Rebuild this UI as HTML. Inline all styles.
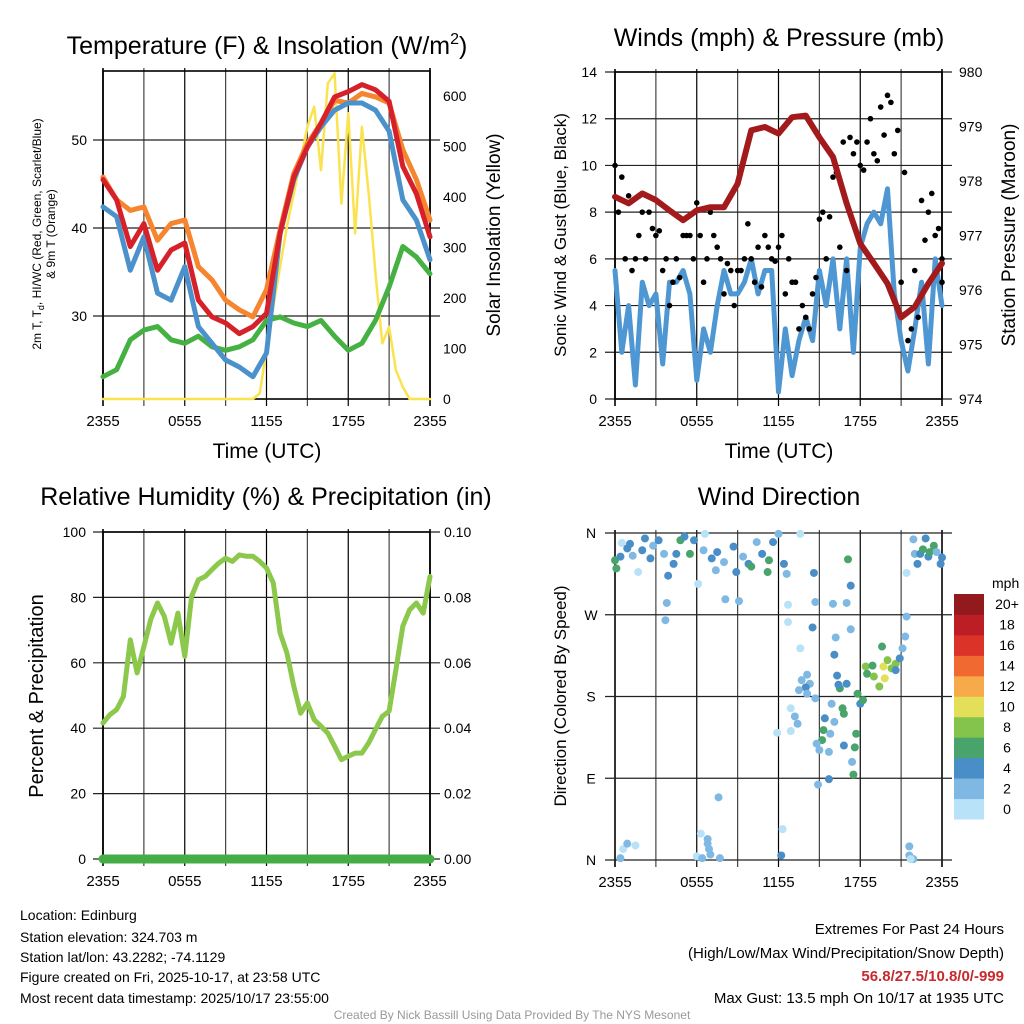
<!DOCTYPE html>
<html><head><meta charset="utf-8"><title>Mesonet station meteogram</title>
<style>
html,body{margin:0;padding:0;background:#fff;}
svg{display:block;font-family:"Liberation Sans",Arial,sans-serif;}
</style></head>
<body>
<svg id="chart" width="1024" height="1024" viewBox="0 0 1024 1024" xmlns="http://www.w3.org/2000/svg">
<rect width="1024" height="1024" fill="#fff"/>
<g id="grids"></g>
<g id="series"></g>
<!-- titles -->
<text x="267" y="54" font-size="25" text-anchor="middle">Temperature (F) &amp; Insolation (W/m<tspan font-size="16" dy="-10">2</tspan><tspan dy="10">)</tspan></text>
<text x="779" y="46" font-size="25" text-anchor="middle">Winds (mph) &amp; Pressure (mb)</text>
<text x="266" y="505" font-size="25" text-anchor="middle">Relative Humidity (%) &amp; Precipitation (in)</text>
<text x="779" y="505" font-size="25" text-anchor="middle">Wind Direction</text>
<!-- axis titles -->
<text transform="translate(41,234) rotate(-90)" font-size="12" text-anchor="middle">2m T, T<tspan font-size="9" dy="3">d</tspan><tspan dy="-3">, HI/WC (Red, Green, Scarlet/Blue)</tspan></text>
<text transform="translate(55,234) rotate(-90)" font-size="12" text-anchor="middle">&amp; 9m T (Orange)</text>
<text transform="translate(500,235) rotate(-90)" font-size="19" text-anchor="middle">Solar Insolation (Yellow)</text>
<text transform="translate(566,235) rotate(-90)" font-size="17" text-anchor="middle">Sonic Wind &amp; Gust (Blue, Black)</text>
<text transform="translate(1015,235) rotate(-90)" font-size="19" text-anchor="middle">Station Pressure (Maroon)</text>
<text transform="translate(43,696) rotate(-90)" font-size="20" text-anchor="middle">Percent &amp; Precipitation</text>
<text transform="translate(566,696) rotate(-90)" font-size="17" text-anchor="middle">Direction (Colored By Speed)</text>
<text x="267" y="458" font-size="21" text-anchor="middle">Time (UTC)</text>
<text x="779" y="458" font-size="21" text-anchor="middle">Time (UTC)</text>
<text x="992" y="588" font-size="14">mph</text>
<!-- footer -->
<g font-size="14">
<text x="20" y="920">Location: Edinburg</text>
<text x="20" y="942">Station elevation: 324.703 m</text>
<text x="20" y="962">Station lat/lon: 43.2282; -74.1129</text>
<text x="20" y="982">Figure created on Fri, 2025-10-17, at 23:58 UTC</text>
<text x="20" y="1003">Most recent data timestamp: 2025/10/17 23:55:00</text>
</g>
<g font-size="15" text-anchor="end">
<text x="1004" y="934">Extremes For Past 24 Hours</text>
<text x="1004" y="958">(High/Low/Max Wind/Precipitation/Snow Depth)</text>
<text x="1004" y="981" fill="#c62a2f" font-weight="bold">56.8/27.5/10.8/0/-999</text>
<text x="1004" y="1003">Max Gust: 13.5 mph On 10/17 at 1935 UTC</text>
</g>
<text x="512" y="1019" font-size="12" fill="#999" text-anchor="middle">Created By Nick Bassill Using Data Provided By The NYS Mesonet</text>
</svg>
<script>
// ---- data (hourly unless noted) ----
const timeLabels = ["2355","0555","1155","1755","2355"];
const tempRed = [45.5,43.2,37.9,40.5,35.2,37.5,38.3,31.8,29.9,29.2,28,28.8,30.3,39.4,45.8,49.2,51.9,54.9,55.5,56.3,55.7,54.4,47,43.9,39];
const tempOrange = [45.8,43.2,42,42.4,38.6,40.5,40.9,35.6,34.1,31.8,30.7,29.9,33,39.8,46.2,49.6,51.9,54.5,54.2,55.3,54.9,54.2,48.9,45.5,40.9];
const tempBlue = [42.4,41.3,35.2,39,32.6,31.8,35.6,28.8,26.9,25,24.2,23.1,25.8,39.4,45.5,49.2,51.5,53.4,54.2,54.2,53.4,51,43.2,40.9,36.4];
const dewGreen = [23.1,23.9,27.3,28.4,28.8,27.3,26.9,27.7,26.5,26.1,26.5,27.3,29.5,29.9,29.2,28.8,29.5,27.7,26.1,26.9,29.5,33.3,37.9,36.7,34.8];
// half-hourly solar insolation (W/m2)
const solar = [0,0,0,0,0,0,0,0,0,0,0,0,0,0,0,0,0,0,0,0,0,0,0,11,97,183,262,341,407,473,539,579,453,625,645,387,566,328,539,407,249,110,143,57,24,0,0,0,0];
const tempTicks = [30,40,50];
const solarTicks = [0,100,200,300,400,500,600];
// half-hourly wind (mph)
const windSpeed = [5.5,2,4,0.6,5,4,4.5,1.5,5,5,5.5,4.5,0.8,3,2,4,5.5,4.5,4.5,5,6,4.5,5.5,5.5,0.3,3,1,2.5,3.5,2.5,5.5,4,6,3,6,2,6.5,7.5,8,7.5,9,4.5,2.5,1.2,3,5,1.5,6,4];
const gustA = [10,9.5,8.7,6,8,8,7,5.5,4,6,7,7,8.4,5,8,6.5,4.5,5.5,5.5,6,6,6.5,7,6,6.5,4.5,5,3,3.5,4.5,7.7,6,9.5,6.5,5.5,10.5,10,11,10.5,12.5,13,10.5,5,2.5,5.5,8.5,8,7,6];
const gustB = [8,6,5.5,7,6,7.3,7.2,6,5,5.2,7,6,7,6,7,6,5.8,4,5.5,7.5,5,4.8,6.5,5.9,7,6,5,4,3,5.2,8,7.8,9.7,11,11.2,11,9.8,12,10.2,11.3,12.7,11.5,9.7,3,3.5,6.8,8.8,7.3,5];
const pressure = [977.71,977.59,977.77,977.65,977.46,977.28,977.46,977.52,977.52,977.95,978.93,978.99,978.87,979.17,979.2,978.8,978.44,977.59,976.85,976.49,976.12,975.5,975.69,976.12,976.49];
const windTicks = [0,2,4,6,8,10,12,14];
const pressTicks = [974,975,976,977,978,979,980];
// half-hourly RH (%)
const rh = [41.6,44.1,45.7,49.7,67,56.9,65,73.2,78.3,74.2,66,75.2,62,80.3,85.4,86.4,88.5,90.5,92,91,93,92.6,92.6,91,89,84.4,69.1,63,52.8,44.6,47.7,42.6,40.6,38.5,34.5,30.4,31.4,32.4,32.4,35.5,39.6,43.6,45.2,57.9,71.2,76.2,78.3,75.2,86.4];
const precip = [0,0,0,0,0,0,0,0,0,0,0,0,0,0,0,0,0,0,0,0,0,0,0,0,0];
const rhTicks = [0,20,40,60,80,100];
const precipTicks = ["0.00","0.02","0.04","0.06","0.08","0.10"];
// wind direction scatter: time (h), direction (deg), speed (mph)
const dirTime = [0,0.1,0.4,0.5,0.9,1.1,1.3,1.7,2,2.2,2.6,2.8,3.2,3.6,3.9,3.8,3.7,4.3,4.5,4.8,5.1,5.5,5.8,6.1,6.6,6.5,7.1,7.5,7.4,8,8.1,8.7,8.9,9.1,9.4,9.8,10,10.4,10.8,11.3,11.2,11.6,12,12.4,12.6,12.7,12.7,13.6,14.6,14.5,14.7,16,17,17.1,17.3,17.3,16.2,16.1,16.3,13.6,13.7,14.1,14.3,14,14.1,13.5,14.7,12.9,13.2,13.4,11.9,12.9,15.4,15.3,15.2,14.8,15,15.7,15.8,15.9,16.1,15.7,14.9,16.7,16.8,16.8,17,16.5,16.4,17.7,17.6,17.4,17.5,17.8,18,18.2,18.4,18.5,18.9,19,19.4,19.6,19.7,19.8,20,20.3,20.6,20.6,20.9,21.1,21.3,21.4,21.4,21.9,22.2,22,22.4,22.6,22.8,23,23.1,23.4,23.6,23.9,24,0.4,0.6,0.9,1.5,6,6.3,6.8,6.8,6.9,7,6.4,7.7,7.6,12.3,12.2,21.6,21.6,21.8,21.9,21.7];
const dirDeg = [330,321,334,349,343,348,335,317,341,354,332,346,352,337,313,283,264,326,337,352,356,337,352,304,359,341,332,339,319,328,287,345,317,285,334,326,323,350,337,330,317,350,359,326,315,281,262,359,316,256,284,282,283,331,302,254,245,226,203,233,198,204,194,190,183,187,178,167,158,150,140,142,156,143,132,128,121,119,139,172,152,89,83,167,161,126,194,189,193,139,124,108,94,183,172,176,213,205,214,202,191,235,213,200,220,211,216,209,222,233,246,268,316,353,326,337,337,342,354,334,339,346,339,326,333,2,12,18,16,4,29,23,18,12,6,2,2,69,34,5,15,5,1,1,1];
const dirSpeed = [7,7,5,1,5,5,3,1,5,5,5,3,5,3,5,3,3,5,5,7,5,7,5,1,1,3,5,5,3,3,3,5,5,3,3,5,7,3,5,7,7,5,3,5,3,1,1,1,5,5,3,3,3,7,5,3,3,5,5,1,3,3,3,5,3,3,3,1,3,3,1,1,5,7,7,3,3,3,3,3,3,5,3,7,7,5,5,7,5,7,7,3,7,7,5,7,9,7,7,9,9,7,11,11,9,9,9,5,5,3,3,3,1,3,5,3,5,7,5,5,7,7,3,5,5,3,1,3,1,1,1,3,3,3,3,3,3,3,1,5,3,3,3,3,1];
const dirTicks = ["N","E","S","W","N"];
const barLabels = ["0","2","4","6","8","10","12","14","16","18","20+"];
const barColors = ["#b7e2f8","#7fb9e3","#4a8ec7","#48a46a","#84c44d","#e4df58","#f6aa4a","#ef6930","#dc3329","#bd1d24","#921a1c"];

// ---- panels & axis functions ----
const P1={x0:103,x1:430,y0:71,y1:399}, P2={x0:615,x1:942,y0:72,y1:399}, P3={x0:103,x1:430,y0:532,y1:859}, P4={x0:615,x1:942,y0:533,y1:860};
const tx=(p,t)=>p.x0+t/24*(p.x1-p.x0);
const yT=v=>316-(v-30)*8.8;
const yS=v=>399-v*303/600;
const yW=v=>P2.y1-v*(P2.y1-P2.y0)/14;
const yP=v=>P2.y1-(v-974)*(P2.y1-P2.y0)/6;
const yR=v=>P3.y1-v*(P3.y1-P3.y0)/100;
const yPr=v=>P3.y1-v*(P3.y1-P3.y0)/0.1;
const yD=v=>P4.y1-v*(P4.y1-P4.y0)/360;
const NS="http://www.w3.org/2000/svg";
const G=document.getElementById('grids'), S=document.getElementById('series');
function mk(tag,attrs,parent,text){const e=document.createElementNS(NS,tag);for(const k in attrs)e.setAttribute(k,attrs[k]);if(text!==undefined)e.textContent=text;parent.appendChild(e);return e;}

function gridFor(p,name,hVals,hFn){
  for(let h=0;h<=24;h+=3){
    const x=tx(p,h);
    const l=mk('line',{x1:x,x2:x,y1:p.y0-3,y2:p.y1+7,stroke:(h%6==0?'#000':'#444'),'stroke-width':(h==0||h==24)?1.6:1.2},G);
    
    
  }
  hVals.forEach(v=>{
    const y=hFn(v);
    const l=mk('line',{x1:p.x0-10,x2:p.x1+10,y1:y,y2:y,stroke:'#222','stroke-width':1.2},G);
    
    
  });
  timeLabels.forEach((s,i)=>{
    const t=mk('text',{x:tx(p,i*6),y:p.y1+27,'font-size':15,'text-anchor':'middle'},G,s);
    
    
  });
}
function box(p,name){
  const r=mk('rect',{x:p.x0,y:p.y0,width:p.x1-p.x0,height:p.y1-p.y0,fill:'none',stroke:'#000','stroke-width':1.6},G);
  
  
}
function ylab(x,y,s,anchor,name){
  const t=mk('text',{x:x,y:y+5,'font-size':14,'text-anchor':anchor},G,s);
  
  
}
function poly(p,vals,yf,step,color,w,name){
  const pts=vals.map((v,i)=>tx(p,i*step).toFixed(1)+','+yf(v).toFixed(1)).join(' ');
  const l=mk('polyline',{points:pts,fill:'none',stroke:color,'stroke-width':w,'stroke-linejoin':'round','stroke-linecap':'round'},S);
  
  
}

// Panel 1
gridFor(P1,'temperature',tempTicks,yT); box(P1,'temperature');
tempTicks.forEach(v=>ylab(P1.x0-16,yT(v),String(v),'end','temperature-y-tick-label'));
solarTicks.forEach(v=>ylab(P1.x1+13,yS(v),String(v),'start','solar-y-tick-label'));
poly(P1,solar,yS,0.5,'#fbe34f',2.5,'solar-insolation-line');
poly(P1,dewGreen,yT,1,'#45b142',5,'dewpoint-green-line');
poly(P1,tempOrange,yT,1,'#f6852f',5,'temp-9m-orange-line');
poly(P1,tempBlue,yT,1,'#4b91cb',5,'heat-index-blue-line');
poly(P1,tempRed,yT,1,'#d6212a',5,'temp-2m-red-line');

// Panel 2
gridFor(P2,'wind',windTicks,yW); box(P2,'wind');
windTicks.forEach(v=>ylab(P2.x0-18,yW(v),String(v),'end','wind-y-tick-label'));
pressTicks.forEach(v=>ylab(P2.x1+17,yP(v),String(v),'start','pressure-y-tick-label'));
poly(P2,windSpeed,yW,0.5,'#4f97d2',5,'sonic-wind-line');
[gustA,gustB].forEach((arr,k)=>arr.forEach((v,i)=>{
  const c=mk('circle',{cx:tx(P2,Math.min(24,i*0.5+k*0.25)),cy:yW(v),r:2.8,fill:'#000'},S);
  
  
}));
poly(P2,pressure,yP,1,'#a21a1c',6,'station-pressure-line');

// Panel 3
gridFor(P3,'humidity',rhTicks,yR); box(P3,'humidity');
rhTicks.forEach(v=>ylab(P3.x0-17,yR(v),String(v),'end','humidity-y-tick-label'));
precipTicks.forEach(v=>ylab(P3.x1+14,yPr(parseFloat(v)),v,'start','precip-y-tick-label'));
poly(P3,rh,yR,0.5,'#8cc84b',5,'relative-humidity-line');
poly(P3,precip,yPr,1,'#44ad45',9,'precipitation-line');

// Panel 4
gridFor(P4,'direction',[0,90,180,270,360],yD);
dirTicks.forEach((s,i)=>ylab(P4.x0-24,yD(i*90),s,'middle','direction-y-tick-label'));
function colorFor(s){return barColors[Math.min(10,Math.floor(s/2))];}
dirTime.forEach((t,i)=>{
  const c=mk('circle',{cx:tx(P4,t),cy:yD(dirDeg[i]),r:4,fill:colorFor(dirSpeed[i])},S);
  
  
});
// colorbar
const by0=594, bh=225/11;
barColors.forEach((col,i)=>{
  const y=by0+bh*(10-i);
  const r=mk('rect',{x:954,y:y,width:30,height:bh+0.5,fill:col},G);
  
  
  const t=mk('text',{x:1007,y:y+bh/2+5,'font-size':14,'text-anchor':'middle'},G,barLabels[i]);
  
  
});
</script>
</body></html>
